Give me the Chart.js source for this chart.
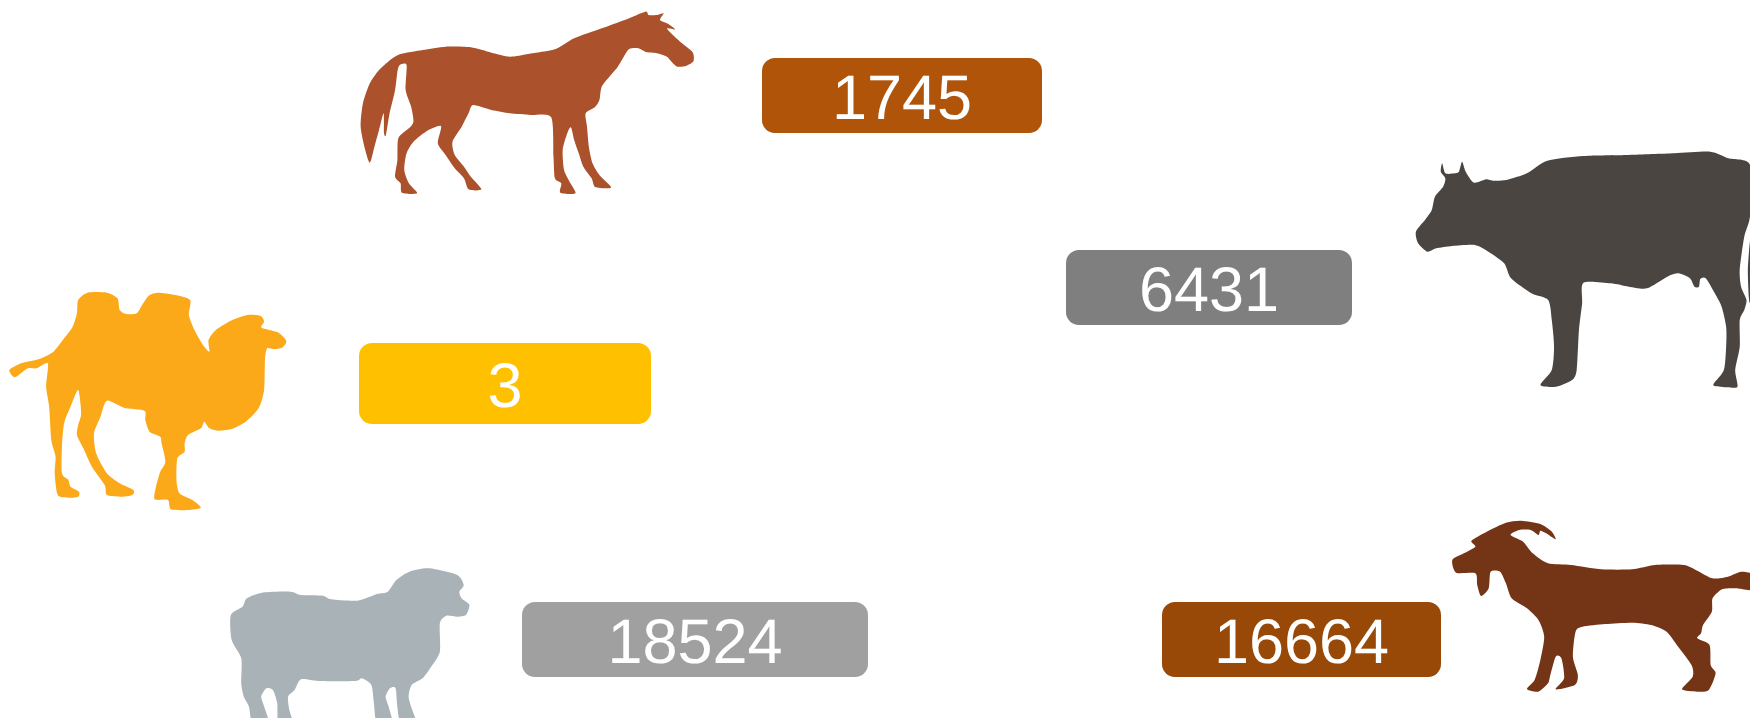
<!DOCTYPE html>
<html>
<head>
<meta charset="utf-8">
<title>Livestock</title>
<script src="https://cdn.jsdelivr.net/npm/chart.js@4"></script>
<style>
  html, body { margin: 0; padding: 0; background: #fff; overflow: hidden; }
  canvas { display: block; }
</style>
</head>
<body>
<canvas id="animalChart" width="1750" height="718"></canvas>
<script>
// chart values
const animals = ["Horse", "Cow", "Camel", "Sheep", "Goat"];
const counts = [1745, 6431, 3, 18524, 16664];

// styles
const boxColors = ["#B0540A", "#7F7F7F", "#FFC000", "#A0A0A0", "#984807"];
const animalColors = ["#AB512B", "#4A4541", "#FBA919", "#A9B2B7", "#743416"];

// label box layout, in page pixels: [left, top, right, bottom]
const boxLayout = [
  [762, 58, 1042, 133],
  [1066, 250, 1352, 325],
  [359, 343, 651, 424],
  [522, 602, 868, 677],
  [1162, 602, 1441, 677],
];

// silhouettes traced by hand from crops: origin and scale of the crop, then the outline
const horseShape = { x0: 340, y0: 0, sx: 2.178, sy: 3, pts: [
  [665,35],[672,45],[690,45],[705,40],[697,60],[715,72],[730,88],[712,85],[725,105],[745,130],[768,157],[770,183],[755,197],[735,200],[722,185],[712,170],[690,160],[668,157],[650,145],[630,147],[618,170],[605,200],[590,225],[570,260],[565,300],[555,322],[535,340],[538,380],[542,440],[550,490],[565,525],[590,560],[580,565],[555,560],[548,535],[530,500],[520,460],[510,420],[503,382],[495,400],[485,450],[488,510],[500,545],[513,580],[480,578],[482,550],[468,535],[465,470],[460,352],[415,345],[370,340],[330,330],[290,315],[280,340],[265,380],[245,425],[250,465],[270,500],[285,530],[308,568],[280,568],[270,535],[250,505],[230,465],[213,430],[220,378],[190,392],[160,425],[145,460],[140,510],[150,550],[168,580],[135,578],[132,550],[120,530],[125,480],[127,415],[150,385],[160,365],[155,320],[143,270],[145,195],[130,195],[125,215],[120,270],[108,340],[100,405],[96,400],[95,340],[85,390],[75,440],[65,488],[55,450],[45,380],[50,310],[65,250],[85,210],[105,185],[130,163],[180,150],[230,140],[285,142],[330,158],[370,170],[410,162],[470,147],[510,115],[570,85],[620,60]
] };
const cowShape = { x0: 1040, y0: 130, sx: 2.208, sy: 3, pts: [
  [888,100],[895,130],[915,130],[925,125],[932,95],[940,125],[958,158],[985,148],[1000,152],[1030,150],[1075,130],[1120,92],[1200,78],[1300,75],[1400,70],[1480,65],[1520,85],[1568,105],[1568,255],[1555,320],[1545,420],[1548,470],[1560,510],[1555,540],[1545,570],[1545,650],[1535,720],[1540,770],[1518,772],[1490,768],[1488,760],[1510,720],[1515,650],[1515,590],[1505,530],[1490,490],[1470,445],[1458,447],[1455,470],[1445,470],[1435,445],[1410,430],[1385,440],[1340,475],[1300,470],[1260,460],[1200,458],[1197,520],[1190,600],[1185,720],[1175,750],[1140,770],[1105,765],[1130,720],[1135,650],[1130,570],[1122,510],[1085,490],[1040,445],[1025,400],[990,365],[960,345],[910,348],[875,355],[855,365],[835,340],[830,305],[850,270],[865,240],[872,200],[890,170],[895,145],[885,125]
] };
const cowTail = { x0: 1040, y0: 130, sx: 2.208, sy: 3, pts: [
  [1568,335],[1563,420],[1565,500],[1568,510]
] };
const camelShape = { x0: 0, y0: 280, sx: 2.34, sy: 3, pts: [
  [22,270],[50,250],[90,238],[125,215],[150,175],[170,140],[180,100],[183,60],[205,38],[250,38],[275,55],[280,90],[295,102],[320,100],[335,70],[350,45],[370,38],[410,45],[445,60],[442,105],[455,150],[475,195],[490,215],[488,180],[505,150],[540,122],[580,105],[610,108],[618,125],[612,143],[650,157],[670,183],[660,203],[640,207],[625,205],[620,240],[618,330],[605,385],[575,425],[540,448],[510,452],[490,445],[478,425],[470,445],[440,465],[432,490],[432,515],[415,535],[413,600],[420,640],[450,660],[470,683],[440,690],[400,688],[393,660],[362,658],[365,620],[375,575],[387,545],[378,490],[375,470],[350,455],[340,420],[338,392],[290,383],[250,362],[235,410],[220,460],[225,520],[250,580],[280,610],[312,630],[310,645],[285,650],[250,645],[245,615],[215,560],[195,505],[180,465],[183,435],[190,400],[183,330],[165,380],[150,430],[145,500],[145,580],[160,600],[165,620],[185,635],[183,650],[160,653],[135,645],[128,580],[130,530],[120,480],[115,380],[108,320],[112,250],[85,265],[65,265],[35,292]
] };
const sheepShape = { x0: 210, y0: 550, sx: 2.306, sy: 3, pts: [
  [48,195],[75,170],[85,145],[120,128],[185,125],[210,135],[260,137],[280,148],[340,152],[385,132],[410,125],[430,90],[460,65],[505,55],[570,75],[585,105],[575,125],[580,145],[598,165],[590,195],[570,200],[545,197],[530,220],[530,305],[510,350],[490,385],[465,405],[458,440],[465,475],[475,520],[440,520],[432,470],[428,415],[415,415],[405,440],[412,470],[420,520],[385,520],[378,460],[372,405],[350,385],[335,393],[250,393],[210,388],[195,420],[180,440],[183,480],[190,520],[158,520],[155,460],[145,420],[130,415],[118,440],[125,470],[135,520],[98,520],[90,470],[78,440],[72,400],[72,325],[50,270]
] };
const goatShape = { x0: 1150, y0: 510, sx: 2.613, sy: 3, pts: [
  [790,150],[820,130],[850,110],[840,92],[880,65],[930,38],[970,32],[1020,42],[1050,65],[1060,88],[1035,70],[1020,62],[1015,75],[995,60],[965,60],[942,75],[975,95],[1000,130],[1040,160],[1100,165],[1180,178],[1260,178],[1320,165],[1395,165],[1430,182],[1470,205],[1510,200],[1545,185],[1580,195],[1580,240],[1530,235],[1495,238],[1470,265],[1468,305],[1445,345],[1440,370],[1430,385],[1462,405],[1465,465],[1478,490],[1460,540],[1430,545],[1390,538],[1418,500],[1415,465],[1380,410],[1350,365],[1310,345],[1260,338],[1190,342],[1130,350],[1112,365],[1105,440],[1118,495],[1110,525],[1060,538],[1082,505],[1075,445],[1060,440],[1045,500],[1040,520],[1015,545],[985,537],[1005,510],[1020,450],[1030,380],[1015,330],[985,295],[945,265],[930,220],[915,185],[890,185],[885,235],[865,258],[855,225],[850,190],[800,188]
] };

const shapes = [
  { color: animalColors[0], outline: horseShape },
  { color: animalColors[1], outline: cowShape },
  { color: animalColors[1], outline: cowTail },
  { color: animalColors[2], outline: camelShape },
  { color: animalColors[3], outline: sheepShape },
  { color: animalColors[4], outline: goatShape },
];

function toPoints(o) {
  return o.pts.map((p) => ({ x: o.x0 + p[0] / o.sx, y: o.y0 + p[1] / o.sy }));
}

// closed curve through the points, so the traced outlines lose their straight facets
function smoothPath(ctx, pts) {
  const n = pts.length;
  const k = 0.12;
  ctx.beginPath();
  ctx.moveTo(pts[0].x, pts[0].y);
  for (let i = 0; i < n; i++) {
    const p0 = pts[(i - 1 + n) % n];
    const p1 = pts[i];
    const p2 = pts[(i + 1) % n];
    const p3 = pts[(i + 2) % n];
    ctx.bezierCurveTo(
      p1.x + (p2.x - p0.x) * k,
      p1.y + (p2.y - p0.y) * k,
      p2.x - (p3.x - p1.x) * k,
      p2.y - (p3.y - p1.y) * k,
      p2.x,
      p2.y
    );
  }
  ctx.closePath();
}

// fills each silhouette dataset and draws the rounded value boxes
const pictogramPlugin = {
  id: "pictogram",
  afterDatasetsDraw(chart) {
    const ctx = chart.ctx;
    const { x, y } = chart.scales;
    ctx.save();

    chart.data.datasets.forEach((ds, i) => {
      smoothPath(ctx, chart.getDatasetMeta(i).data);
      ctx.fillStyle = ds.fillColor;
      ctx.fill();
    });

    counts.forEach((value, i) => {
      const [l, t, r, b] = boxLayout[i];
      const left = x.getPixelForValue(l);
      const top = y.getPixelForValue(t);
      const w = x.getPixelForValue(r) - left;
      const h = y.getPixelForValue(b) - top;
      ctx.beginPath();
      ctx.roundRect(left, top, w, h, 13);
      ctx.fillStyle = boxColors[i];
      ctx.fill();
      ctx.fillStyle = "#fff";
      ctx.font = '63px "Liberation Sans", Arial, sans-serif';
      ctx.textRendering = "geometricPrecision";
      ctx.textAlign = "center";
      ctx.textBaseline = "middle";
      ctx.fillText(String(value), left + w / 2, top + h / 2 + 6);
    });
    ctx.restore();
  },
};

new Chart(document.getElementById("animalChart").getContext("2d"), {
  type: "scatter",
  data: {
    datasets: shapes.map((s) => ({
      data: toPoints(s.outline),
      fillColor: s.color,
      pointRadius: 0,
      showLine: false,
    })),
  },
  options: {
    responsive: false,
    animation: false,
    layout: { padding: 0 },
    plugins: { legend: { display: false }, tooltip: { enabled: false } },
    scales: {
      x: { type: "linear", min: 0, max: 1750, display: false },
      y: { type: "linear", min: 0, max: 718, reverse: true, display: false },
    },
  },
  plugins: [pictogramPlugin],
});
</script>
</body>
</html>
